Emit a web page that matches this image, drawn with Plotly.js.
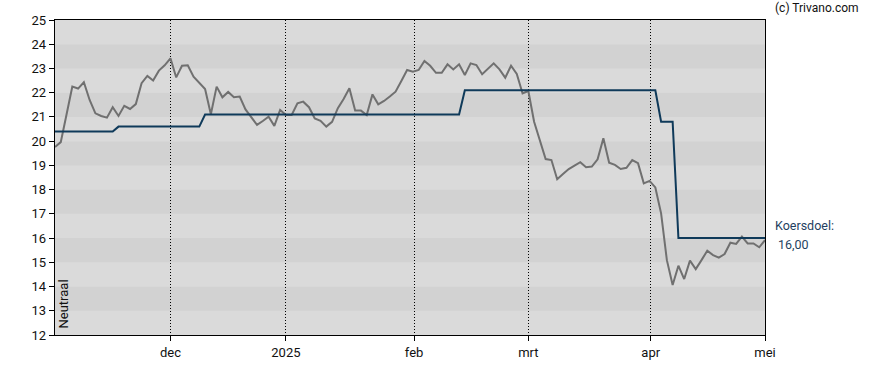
<!DOCTYPE html>
<html>
<head>
<meta charset="utf-8">
<script src="https://cdn.plot.ly/plotly-3.0.1.min.js"></script>
<style>
html,body{margin:0;padding:0;background:#fff;}
#chart{width:888px;height:370px;}
</style>
</head>
<body>
<div id="chart"></div>
<script>
// Daily close prices (one value per trading day, left to right)
const price = [
  19.76, 19.96, 21.10, 22.25, 22.17, 22.43, 21.70, 21.15, 21.04, 20.97,
  21.40, 21.04, 21.46, 21.33, 21.53, 22.39, 22.69, 22.50, 22.91, 23.13,
  23.42, 22.63, 23.11, 23.13, 22.66, 22.41, 22.15, 21.11, 22.25, 21.81,
  22.03, 21.81, 21.84, 21.31, 20.98, 20.67, 20.83, 21.01, 20.63, 21.29,
  21.08, 21.08, 21.56, 21.63, 21.40, 20.94, 20.84, 20.60, 20.80, 21.36,
  21.74, 22.18, 21.26, 21.26, 21.08, 21.93, 21.52, 21.66, 21.84, 22.04,
  22.48, 22.94, 22.87, 22.94, 23.31, 23.11, 22.82, 22.82, 23.17, 22.96,
  23.17, 22.73, 23.21, 23.14, 22.76, 23.00, 23.21, 22.96, 22.62, 23.11,
  22.77, 21.97, 22.07, 20.80, 20.05, 19.26, 19.22, 18.43, 18.64, 18.85,
  18.99, 19.13, 18.92, 18.95, 19.25, 20.12, 19.11, 19.02, 18.85, 18.90,
  19.22, 19.09, 18.26, 18.36, 18.09, 17.02, 15.09, 14.06, 14.86, 14.31,
  15.07, 14.72, 15.09, 15.48, 15.30, 15.19, 15.34, 15.81, 15.76, 16.06,
  15.78, 15.78, 15.62, 15.92
];
const dayIndex = price.map((_, i) => i);

// Price target (koersdoel) breakpoints: trading-day index and value
const targetIdx = [0, 10, 11, 25, 26, 70, 71, 104, 105, 107, 108, 123];
const targetVal = [20.4, 20.4, 20.6, 20.6, 21.1, 21.1, 22.1, 22.1, 20.8, 20.8, 16.0, 16.0];

// Month tick positions (trading-day index) and labels
const tickIdx = [20, 40, 62.2, 82, 103.2, 123];
const tickLabels = ["dec", "2025", "feb", "mrt", "apr", "mei"];

const yTicks = [12,13,14,15,16,17,18,19,20,21,22,23,24,25];
const targetLabel = "Koersdoel:";
const targetText = "16,00";
const advice = "Neutraal";
const credit = "(c) Trivano.com";

const FONT = "Roboto, 'Liberation Sans', Arial, sans-serif";

// alternating horizontal bands
const shapes = [];
for (let k = 0; k < yTicks.length - 1; k++) {
  const lo = yTicks[k], hi = yTicks[k+1];
  shapes.push({
    type: "rect", xref: "paper", yref: "y", x0: 0, x1: 1, y0: lo, y1: hi,
    fillcolor: (lo % 2 === 1) ? "#d2d2d2" : "#dadada",
    line: {width: 0}, layer: "below"
  });
}

const traces = [
  {
    x: dayIndex, y: price, type: "scatter", mode: "lines",
    line: {color: "#707070", width: 2}, hoverinfo: "skip", showlegend: false
  },
  {
    x: targetIdx, y: targetVal, type: "scatter", mode: "lines",
    line: {color: "#0f3a5a", width: 2}, hoverinfo: "skip", showlegend: false
  }
];

const layout = {
  width: 888, height: 370,
  margin: {l: 55, r: 123, t: 20, b: 35, pad: 0},
  paper_bgcolor: "#ffffff",
  plot_bgcolor: "#dadada",
  font: {family: FONT, size: 13, color: "#111"},
  showlegend: false,
  shapes: shapes,
  xaxis: {
    range: [0, 123], autorange: false,
    tickmode: "array", tickvals: tickIdx, ticktext: tickLabels,
    showgrid: true, gridcolor: "#000000", gridwidth: 1, griddash: "1px,2px",
    showline: true, linecolor: "#000", linewidth: 1.3, mirror: true,
    ticks: "outside", ticklen: 5, tickcolor: "#000", tickwidth: 1,
    tickfont: {family: FONT, size: 13, color: "#111"},
    zeroline: false, fixedrange: true
  },
  yaxis: {
    range: [12, 25], autorange: false,
    tickmode: "array", tickvals: yTicks, ticktext: yTicks.map(String),
    showgrid: false,
    showline: true, linecolor: "#000", linewidth: 1.3, mirror: true,
    ticks: "outside", ticklen: 5, tickcolor: "#000", tickwidth: 1,
    tickfont: {family: FONT, size: 13, color: "#111"},
    zeroline: false, fixedrange: true
  },
  annotations: [
    {
      text: credit, xref: "paper", yref: "paper", x: 1.0, y: 1.0,
      xshift: 8, yshift: 12, xanchor: "left", yanchor: "middle",
      showarrow: false, font: {family: FONT, size: 12, color: "#111"}
    },
    {
      text: targetLabel, xref: "paper", yref: "y", x: 1.0, y: 16.0,
      xshift: 8, yshift: 3, xanchor: "left", yanchor: "bottom",
      showarrow: false, font: {family: FONT, size: 12.5, color: "#1f3f5f"}
    },
    {
      text: targetText, xref: "paper", yref: "y", x: 1.0, y: 16.0,
      xshift: 11, yshift: 3, xanchor: "left", yanchor: "top",
      showarrow: false, font: {family: FONT, size: 12.5, color: "#1f3f5f"}
    },
    {
      text: advice, xref: "paper", yref: "paper", x: 0, y: 0,
      xshift: 8, yshift: 4, xanchor: "center", yanchor: "bottom",
      textangle: -90, showarrow: false,
      font: {family: FONT, size: 13, color: "#111"}
    }
  ]
};

Plotly.newPlot("chart", traces, layout, {displayModeBar: false, staticPlot: true});
</script>
</body>
</html>
